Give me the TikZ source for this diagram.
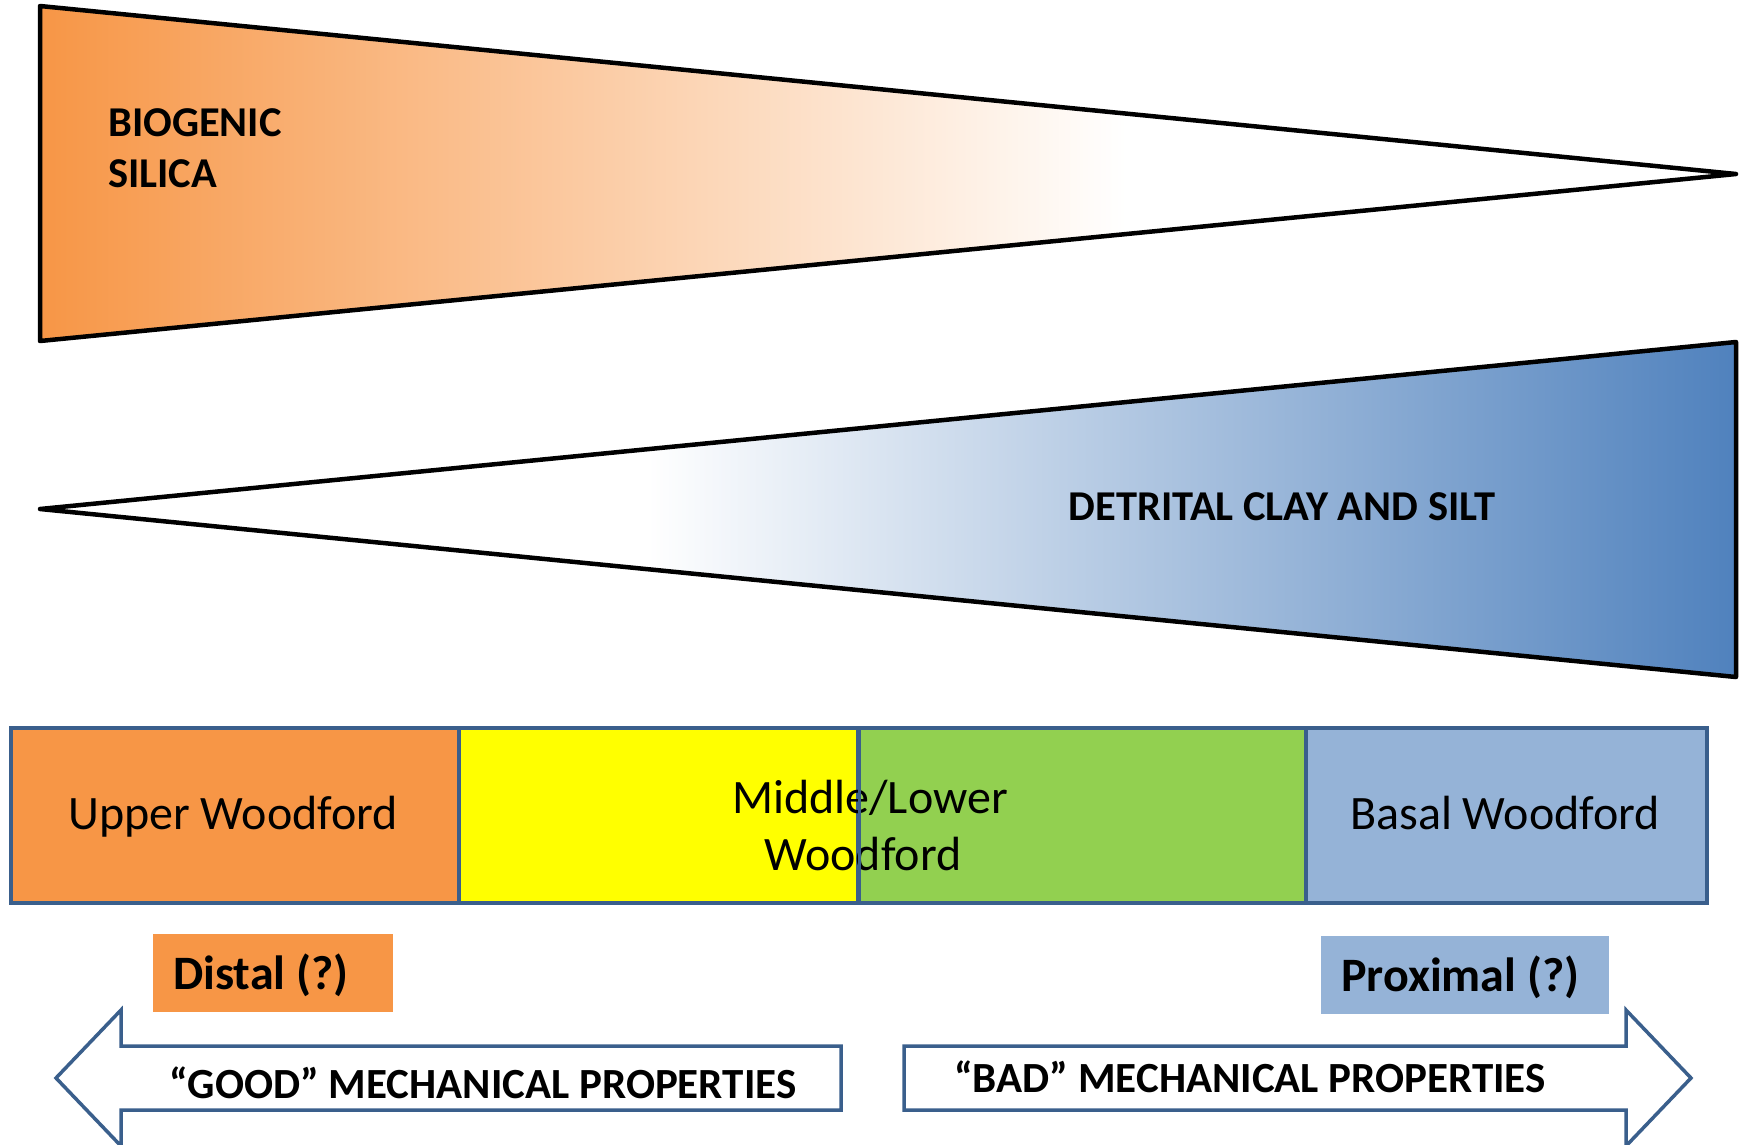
\documentclass[tikz,border=0pt]{standalone}
\usepackage{fontspec}
\setmainfont{Carlito}
\definecolor{orgc}{HTML}{F79646}
\definecolor{bluec}{HTML}{4F81BD}
\definecolor{lbluec}{HTML}{95B3D7}
\definecolor{greenc}{HTML}{92D050}
\definecolor{yelc}{HTML}{FFFF00}
\definecolor{edgec}{HTML}{3A5F8C}
\newcommand{\fs}[1]{\fontsize{#1}{1.22\dimexpr #1pt\relax}\selectfont}
\begin{document}
\begin{tikzpicture}[x=1pt,y=-1pt,
  tri/.style={draw=black,line width=4.5pt,line join=round},
  unitbox/.style={draw=edgec,line width=3.5pt,inner sep=0pt,anchor=north west,minimum height=175pt},
  tagbox/.style={inner sep=0pt,anchor=north west,minimum height=78pt},
  bigarrow/.style={draw=edgec,line width=3.5pt,fill=white,line join=miter},
  heading/.style={font=\bfseries\fs{42.5},inner sep=0pt},
  unitlabel/.style={font=\fs{48},inner sep=0pt},
  taglabel/.style={font=\bfseries\fs{48},inner sep=0pt},
  arrowlabel/.style={font=\bfseries\fs{43},inner sep=0pt}]
\useasboundingbox (0,0) rectangle (1748,1144);
% orange wedge
\coordinate (ot) at (40,6);
\coordinate (ob) at (40,341);
\coordinate (oa) at (1736,174);
\begin{scope}
\clip (ot) -- (oa) -- (ob) -- cycle;
\fill[left color=orgc,right color=white] (40,0) rectangle (1126,350);
\end{scope}
\draw[tri] (ot) -- (oa) -- (ob) -- cycle;
\node[heading,anchor=base west] (bio1) at (108,136) {BIOGENIC};
\node[heading,anchor=base west] (bio2) at (108,187) {SILICA};
% blue wedge
\coordinate (ba) at (40,509);
\coordinate (bt) at (1736,342);
\coordinate (bb) at (1736,677);
\begin{scope}
\clip (ba) -- (bt) -- (bb) -- cycle;
\fill[left color=white,right color=bluec] (647,330) rectangle (1740,690);
\end{scope}
\draw[tri] (ba) -- (bt) -- (bb) -- cycle;
\node[heading,anchor=base] (det) at (1282,520) {DETRITAL CLAY AND SILT};
% unit boxes
\node[unitbox,fill=orgc,minimum width=448pt] (upper) at (9,726) {};
\node[unitbox,fill=yelc,minimum width=399pt] (yel) at (457,726) {};
\node[unitbox,fill=greenc,minimum width=448pt] (grn) at (856,726) {};
\node[unitbox,fill=lbluec,minimum width=401pt] (basal) at (1304,726) {};
\node[unitlabel,anchor=base] (upperl) at (233,829) {Upper Woodford};
\node[unitlabel,anchor=base] (basall) at (1505,829) {Basal Woodford};
\node[unitlabel,anchor=base] (mid1) at (870,813) {Middle/Lower};
\node[unitlabel,anchor=base] (mid2) at (863,870) {Woodford};
\draw[draw=edgec,line width=3.5pt] (yel.north east) -- (yel.south east);
% tag boxes
\node[tagbox,fill=orgc,minimum width=240pt] (distal) at (153,934) {};
\node[taglabel,anchor=base west] (distall) at (173,989) {Distal (?)};
\node[tagbox,fill=lbluec,minimum width=288pt] (prox) at (1321,936) {};
\node[taglabel,anchor=base west] (proxl) at (1341,991) {Proximal (?)};
% arrows
\draw[bigarrow] (841,1046) -- (121,1046) -- (121,1010) -- (56,1078) -- (121,1146) -- (121,1110) -- (841,1110) -- cycle;
\draw[bigarrow] (904,1046) -- (1626,1046) -- (1626,1010) -- (1691,1078) -- (1626,1146) -- (1626,1110) -- (904,1110) -- cycle;
\node[arrowlabel] (good) at (483,1083) {“GOOD” MECHANICAL PROPERTIES};
\node[arrowlabel] (bad) at (1250,1077) {“BAD” MECHANICAL PROPERTIES};
\end{tikzpicture}
\end{document}
